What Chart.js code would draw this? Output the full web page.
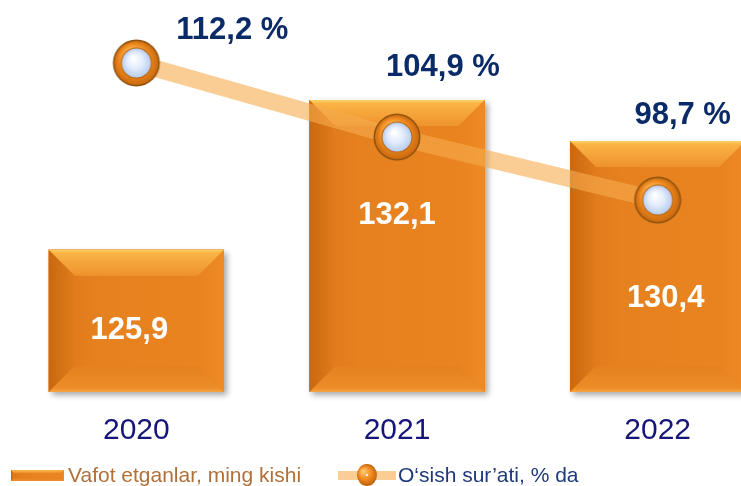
<!DOCTYPE html>
<html>
<head>
<meta charset="utf-8">
<script src="https://cdn.jsdelivr.net/npm/chart.js@4/dist/chart.umd.min.js"></script>
<style>
  body { margin: 0; overflow: hidden; background: #fff; }
  #wrap { position: relative; width: 788px; height: 486px; }
  #legend { position: absolute; left: 0; top: 463px; height: 24px; width: 741px; font-family: "Liberation Sans", Arial, sans-serif; font-size: 21px; }
  .item { position: absolute; top: 0; height: 24px; display: flex; align-items: center; white-space: nowrap; }
</style>
</head>
<body>
<div id="wrap">
  <canvas id="chart" width="788" height="486"></canvas>
  <div id="legend"></div>
</div>
<script>
const years = ["2020", "2021", "2022"];
const deaths = [125.9, 132.1, 130.4];   // Vafot etganlar, ming kishi
const growth = [112.2, 104.9, 98.7];    // O'sish sur'ati, % da
const seriesNames = ["Vafot etganlar, ming kishi", "O‘sish sur’ati, % da"];

const fmt = v => v.toFixed(1).replace(".", ",");

// orange ring marker with pale blue centre
function makeMarker() {
  const c = document.createElement("canvas");
  c.width = 50; c.height = 50;
  const g = c.getContext("2d");
  const cx = 25, cy = 25;
  g.beginPath(); g.arc(cx, cy, 23.5, 0, Math.PI * 2);
  g.fillStyle = "#8f520f"; g.fill();
  let rg = g.createRadialGradient(cx - 6, cy - 10, 2, cx, cy, 23);
  rg.addColorStop(0, "#ffc46a");
  rg.addColorStop(0.6, "#f08c22");
  rg.addColorStop(1, "#c8660c");
  g.beginPath(); g.arc(cx, cy, 22, 0, Math.PI * 2);
  g.fillStyle = rg; g.fill();
  g.beginPath(); g.arc(cx, cy, 15.5, 0, Math.PI * 2);
  g.fillStyle = "#b8640e"; g.fill();
  rg = g.createRadialGradient(cx - 3, cy - 5, 1, cx, cy, 14.5);
  rg.addColorStop(0, "#ffffff");
  rg.addColorStop(0.5, "#e4edfc");
  rg.addColorStop(1, "#b9cdef");
  g.beginPath(); g.arc(cx, cy, 14.5, 0, Math.PI * 2);
  g.fillStyle = rg; g.fill();
  return c;
}

function bevelRect(ctx, l, t, r, b, s) {
  let gr = ctx.createLinearGradient(l, 0, r, 0);
  gr.addColorStop(0, "#dc781b");
  gr.addColorStop(0.3, "#e6811f");
  gr.addColorStop(1, "#e9841f");
  ctx.fillStyle = gr;
  ctx.fillRect(l, t, r - l, b - t);

  const poly = (pts, fill) => {
    ctx.beginPath();
    ctx.moveTo(pts[0], pts[1]);
    for (let i = 2; i < pts.length; i += 2) ctx.lineTo(pts[i], pts[i + 1]);
    ctx.closePath();
    ctx.fillStyle = fill;
    ctx.fill();
  };
  // left
  gr = ctx.createLinearGradient(l, 0, l + s, 0);
  gr.addColorStop(0, "#c9680f"); gr.addColorStop(1, "#e17c1c");
  poly([l, t, l + s, t + s, l + s, b - s, l, b], gr);
  // right
  gr = ctx.createLinearGradient(r, 0, r - s, 0);
  gr.addColorStop(0, "#ee8b24"); gr.addColorStop(1, "#e8831f");
  poly([r, t, r, b, r - s, b - s, r - s, t + s], gr);
  // bottom
  gr = ctx.createLinearGradient(0, b, 0, b - s);
  gr.addColorStop(0, "#f5a443"); gr.addColorStop(0.15, "#ec8d28"); gr.addColorStop(1, "#e5801e");
  poly([l, b, r, b, r - s, b - s, l + s, b - s], gr);
  // top
  gr = ctx.createLinearGradient(0, t, 0, t + s);
  gr.addColorStop(0, "#ffd466"); gr.addColorStop(0.12, "#fbb446"); gr.addColorStop(1, "#ee922c");
  poly([l, t, r, t, r - s, t + s, l + s, t + s], gr);
}

function barBox(chart, bar) {
  const p = bar.getProps(["x", "y", "width", "base"], true);
  const bottom = Math.min(p.base, chart.chartArea.bottom);
  return { l: p.x - p.width / 2, r: p.x + p.width / 2, t: p.y, b: bottom, x: p.x };
}

const bevelPlugin = {
  id: "bevel",
  beforeDatasetDraw(chart, args) {
    if (args.index !== 0) return;
    const ctx = chart.ctx;
    ctx.save();
    ctx.shadowColor = "rgba(0,0,0,0.35)";
    ctx.shadowBlur = 6;
    ctx.shadowOffsetX = 3;
    ctx.shadowOffsetY = 3;
    ctx.fillStyle = "#e6811f";
    args.meta.data.forEach(bar => {
      const q = barBox(chart, bar);
      ctx.fillRect(q.l, q.t, q.r - q.l, q.b - q.t);
    });
    ctx.restore();
  },
  afterDatasetDraw(chart, args) {
    if (args.index !== 0) return;
    const ctx = chart.ctx;
    ctx.save();
    args.meta.data.forEach(bar => {
      const q = barBox(chart, bar);
      bevelRect(ctx, q.l, q.t, q.r, q.b, 26);
    });
    ctx.restore();
  }
};

// value labels: per-item nudges to follow the original layout
const barLabelShift = [[-7, 10], [0, -31], [8, 32]];
const pctLabelShift = [[96, -33], [46, -70], [25, -85]];

const labelPlugin = {
  id: "valueLabels",
  afterDatasetsDraw(chart) {
    const ctx = chart.ctx;
    ctx.save();
    ctx.textAlign = "center";
    ctx.textBaseline = "middle";
    ctx.font = "bold 31px 'Liberation Sans', Arial, sans-serif";
    ctx.fillStyle = "#ffffff";
    chart.getDatasetMeta(0).data.forEach((bar, i) => {
      const q = barBox(chart, bar);
      const mid = (q.t + q.b) / 2;
      ctx.fillText(fmt(deaths[i]), q.x + barLabelShift[i][0], mid + barLabelShift[i][1]);
    });
    ctx.font = "bold 31px 'Liberation Sans', Arial, sans-serif";
    ctx.fillStyle = "#0b2a68";
    chart.getDatasetMeta(1).data.forEach((pt, i) => {
      ctx.fillText(fmt(growth[i]) + " %", pt.x + pctLabelShift[i][0], pt.y + pctLabelShift[i][1]);
    });
    ctx.restore();
  }
};

const chart = new Chart(document.getElementById("chart"), {
  data: {
    labels: years,
    datasets: [
      {
        type: "bar",
        label: seriesNames[0],
        data: deaths,
        yAxisID: "y",
        backgroundColor: "#e6811f",
        borderWidth: 0,
        barPercentage: 0.672,
        categoryPercentage: 1,
        order: 1
      },
      {
        type: "line",
        label: seriesNames[1],
        data: growth,
        yAxisID: "y1",
        borderColor: "rgba(247,171,78,0.6)",
        borderWidth: 17,
        borderCapStyle: "butt",
        tension: 0,
        pointStyle: makeMarker(),
        pointRadius: 24,
        pointHoverRadius: 24,
        clip: false,
        order: 0
      }
    ]
  },
  options: {
    responsive: false,
    animation: false,
    layout: { autoPadding: false, padding: { left: 6, right: 0, top: 0, bottom: 16 } },
    plugins: { legend: { display: false }, tooltip: { enabled: false } },
    scales: {
      x: {
        grid: { display: false, drawTicks: false },
        border: { display: false },
        ticks: {
          padding: 21,
          color: "#15157a",
          font: { family: "'Liberation Sans', Arial, sans-serif", size: 30 }
        }
      },
      y: { display: false, min: 120, max: 136.25 },
      y1: { display: false, min: 79.8, max: 118.4 }
    }
  },
  plugins: [bevelPlugin, labelPlugin]
});

// html legend
function barSwatch() {
  const c = document.createElement("canvas");
  c.width = 53; c.height = 11;
  bevelRect(c.getContext("2d"), 0, 0, 53, 11, 3);
  return c;
}
function lineSwatch() {
  const c = document.createElement("canvas");
  c.width = 58; c.height = 22;
  const g = c.getContext("2d");
  g.fillStyle = "rgba(247,171,78,0.6)";
  g.fillRect(0, 7, 58, 9);
  const rg = g.createRadialGradient(25, 7, 1, 29, 11, 11);
  rg.addColorStop(0, "#ffc56c");
  rg.addColorStop(0.55, "#f08a20");
  rg.addColorStop(1, "#b9600c");
  g.beginPath(); g.ellipse(29, 11, 10, 11, 0, 0, Math.PI * 2);
  g.fillStyle = rg; g.fill();
  g.fillStyle = "#f4f0ff";
  g.fillRect(28, 10, 2, 2);
  return c;
}

const legendEl = document.getElementById("legend");
const legendSpec = [
  { left: 11, gap: 4, color: "#b07038", swatch: barSwatch },
  { left: 338, gap: 2, color: "#1e3a7a", swatch: lineSwatch }
];
chart.data.datasets.forEach((ds, i) => {
  const spec = legendSpec[i];
  const item = document.createElement("div");
  item.className = "item";
  item.style.left = spec.left + "px";
  const sw = spec.swatch();
  sw.style.marginRight = spec.gap + "px";
  const txt = document.createElement("span");
  txt.textContent = ds.label;
  txt.style.color = spec.color;
  item.appendChild(sw);
  item.appendChild(txt);
  legendEl.appendChild(item);
});
</script>
</body>
</html>
